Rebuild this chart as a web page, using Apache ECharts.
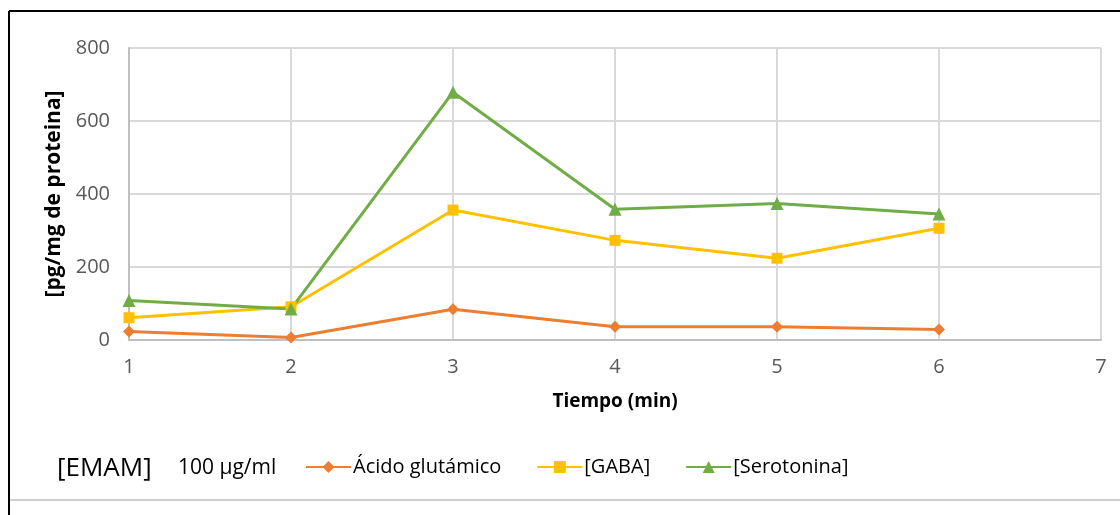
<!DOCTYPE html>
<html>
<head>
<meta charset="utf-8">
<script src="https://cdn.jsdelivr.net/npm/echarts@6/dist/echarts.min.js"></script>
<style>
html,body{margin:0;padding:0;background:#fff;}
#chart{width:1120px;height:515px;}
</style>
</head>
<body>
<div id="chart"></div>
<script>
const tiempos = [1, 2, 3, 4, 5, 6];
const acidoGlutamico = [23, 7, 84, 36, 36, 29];
const gaba = [61, 91, 356, 273, 224, 306];
const serotonina = [108, 85, 679, 358, 374, 345];
const seriesNames = ['Ácido glutámico', '[GABA]', '[Serotonina]'];
const yTicks = [0, 200, 400, 600, 800];
const xTicks = [1, 2, 3, 4, 5, 6, 7];

const pairs = vals => tiempos.map((t, i) => [t, vals[i]]);
const font = 'Open Sans, Noto Sans, sans-serif';

const chart = echarts.init(document.getElementById('chart'));
chart.setOption({
  animation: false,
  backgroundColor: '#fff',
  grid: {left: 129, right: 19, top: 48, bottom: 175, containLabel: false},
  xAxis: {
    type: 'value', min: xTicks[0], max: xTicks[xTicks.length - 1], interval: 1,
    name: 'Tiempo (min)', nameLocation: 'middle', nameGap: 52,
    nameTextStyle: {fontFamily: font, fontWeight: 'bold', fontSize: 19, color: '#000'},
    axisLine: {show: true, lineStyle: {color: '#BFBFBF', width: 2}},
    axisTick: {show: false},
    axisLabel: {color: '#595959', fontSize: 20, fontFamily: font, margin: 17},
    splitLine: {show: true, lineStyle: {color: '#D9D9D9', width: 2}}
  },
  yAxis: {
    type: 'value', min: yTicks[0], max: yTicks[yTicks.length - 1], interval: 200,
    name: '[pg/mg de proteina]', nameLocation: 'middle', nameGap: 57, nameRotate: 90,
    nameTextStyle: {fontFamily: font, fontWeight: 'bold', fontSize: 21, color: '#000'},
    axisLine: {show: true, lineStyle: {color: '#BFBFBF', width: 2}},
    axisTick: {show: false},
    axisLabel: {color: '#595959', fontSize: 20, fontFamily: font, margin: 19},
    splitLine: {show: true, lineStyle: {color: '#D9D9D9', width: 2}}
  },
  legend: {
    left: 300, top: 452, itemWidth: 45, itemHeight: 15, itemGap: 35,
    textStyle: {fontSize: 20, fontFamily: font, color: '#000', padding: [0,0,0,-3]},
    data: seriesNames
  },
  series: [
    {name: seriesNames[0], type: 'line', data: pairs(acidoGlutamico), symbol: 'diamond', symbolSize: 12,
     lineStyle: {color: '#ED7D31', width: 3}, itemStyle: {color: '#ED7D31'}},
    {name: seriesNames[1], type: 'line', data: pairs(gaba), symbol: 'rect', symbolSize: 11,
     lineStyle: {color: '#FFC000', width: 3}, itemStyle: {color: '#FFC000'}},
    {name: seriesNames[2], type: 'line', data: pairs(serotonina), symbol: 'triangle', symbolSize: 13,
     lineStyle: {color: '#70AD47', width: 3}, itemStyle: {color: '#70AD47'}}
  ],
  graphic: [
    {type: 'line', shape: {x1: 9, y1: 11, x2: 1120, y2: 11}, style: {stroke: '#000', lineWidth: 2}},
    {type: 'line', shape: {x1: 9, y1: 11, x2: 9, y2: 515}, style: {stroke: '#000', lineWidth: 2}},
    {type: 'line', shape: {x1: 10, y1: 500, x2: 1120, y2: 500}, style: {stroke: '#BFBFBF', lineWidth: 1.5}},
    {type: 'text', left: 57, top: 456, style: {text: '[EMAM]', fontSize: 26, fontFamily: font, fill: '#000'}},
    {type: 'text', left: 178, top: 458, style: {text: '100 µg/ml', fontSize: 21, fontFamily: font, fill: '#000'}}
  ]
});
</script>
</body>
</html>
